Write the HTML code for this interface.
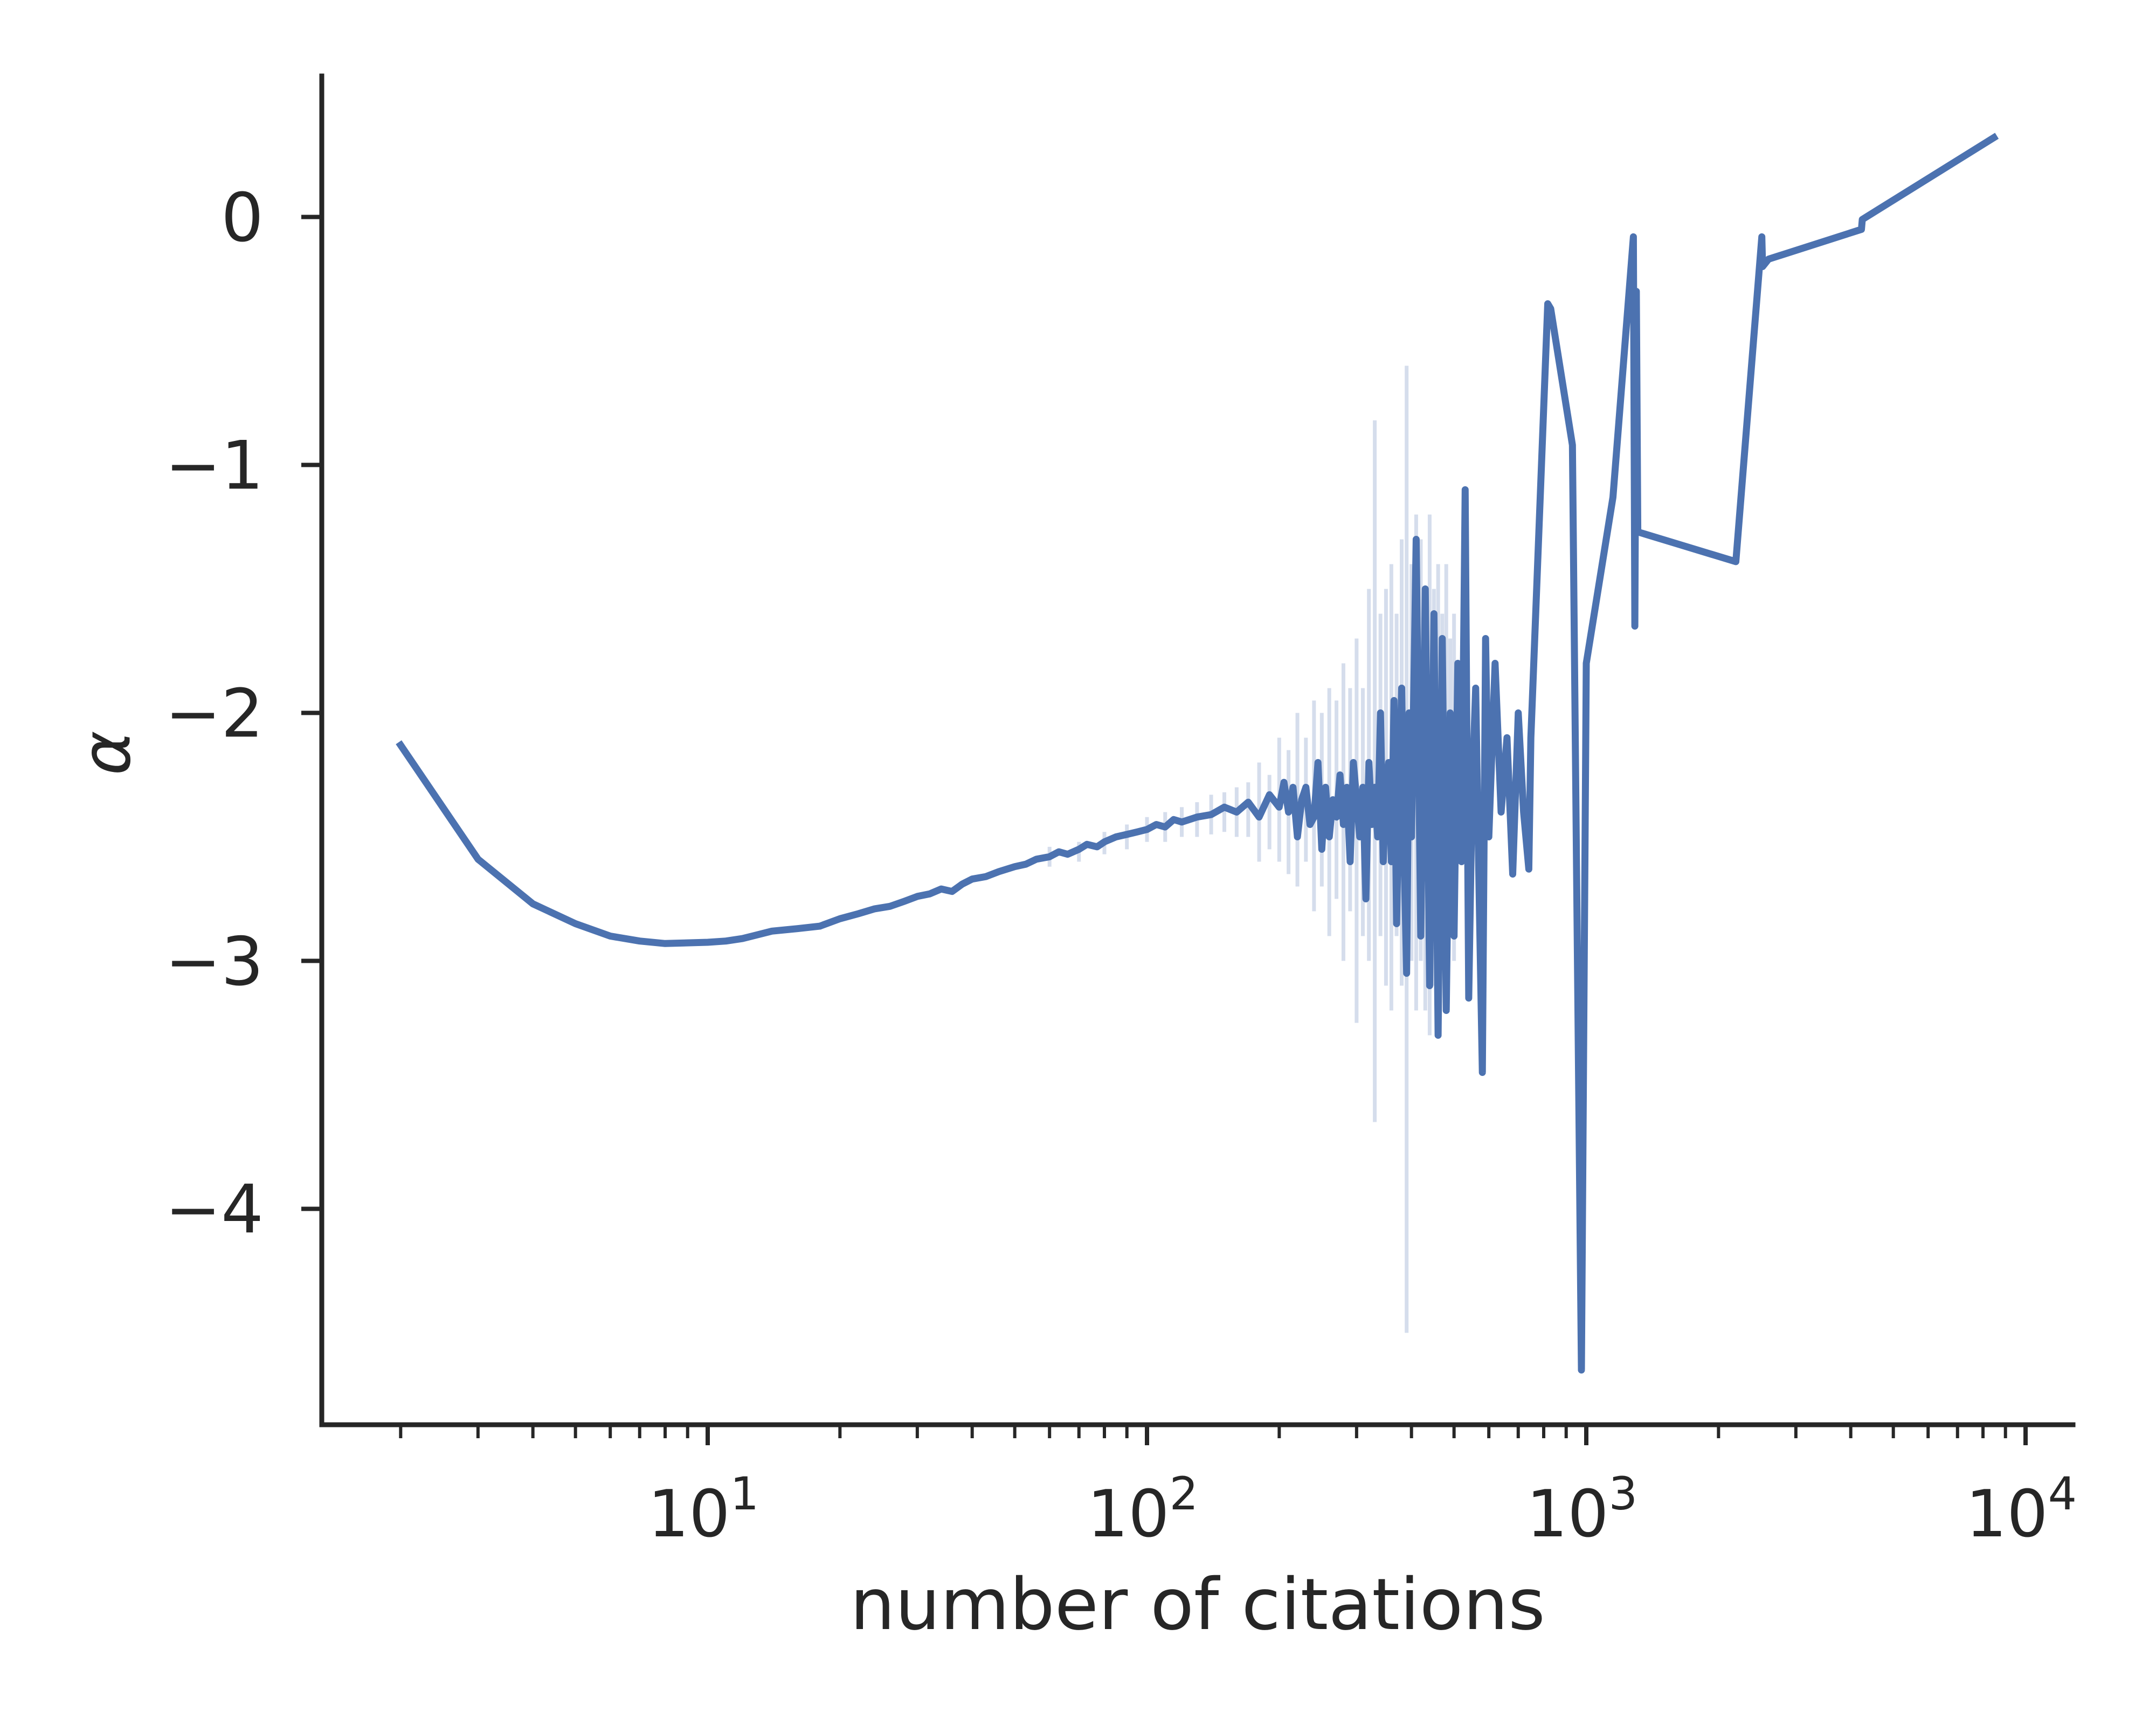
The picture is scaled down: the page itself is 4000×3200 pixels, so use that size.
<!DOCTYPE html>
<html><head><meta charset="utf-8"><style>
html,body{margin:0;padding:0;background:#fff;}
svg{display:block;font-family:"DejaVu Sans","Liberation Sans",sans-serif;}
</style></head><body>
<svg id="chart" width="4000" height="3200" viewBox="0 0 4000 3200" xmlns="http://www.w3.org/2000/svg">
<rect width="4000" height="3200" fill="#fff"/>
<g id="ci"></g>
<g id="series"></g>
<g id="axes"></g>
<text x="2222" y="3022" font-size="132" fill="#262626" text-anchor="middle">number of citations</text>
<text x="0" y="0" font-size="126" font-style="italic" fill="#262626" text-anchor="middle" transform="translate(240,1397) rotate(-90)">α</text>
</svg>
<script>
const xsSmooth = [2,3,4,5,6,7,8,10,11,12, 14,16,18,20,22,24,26,28,30,32, 34,36,38,40,43,46,50,53,56,60, 63,66,70,73,77,80,85,90,95,100, 105,110,115,120,130,140,150,160,170,180, 190,200];
const alphaSmooth = [-2.13,-2.59,-2.77,-2.85,-2.9,-2.92,-2.93,-2.925,-2.92,-2.91, -2.88,-2.87,-2.86,-2.83,-2.81,-2.79,-2.78,-2.76,-2.74,-2.73, -2.71,-2.72,-2.69,-2.67,-2.66,-2.64,-2.62,-2.61,-2.59,-2.58, -2.56,-2.57,-2.55,-2.53,-2.54,-2.52,-2.5,-2.49,-2.48,-2.47, -2.45,-2.46,-2.43,-2.44,-2.42,-2.41,-2.38,-2.4,-2.36,-2.42, -2.33,-2.38];
const xsNoise = [205,210,215,220,225,230,235,240,245,250, 255,260,265,270,275,280,285,290,295,300, 305,310,315,320,325,330,335,340,345,350, 355,360,365,370,375,380,385,390,395,400, 410,420,430,440,450,460,470,480,490,500, 510,520,530,540,550,560,570,580,590,600, 620,640,660,680,700,720,740,748];
const alphaNoise = [-2.28,-2.4,-2.3,-2.5,-2.35,-2.3,-2.45,-2.42,-2.2,-2.55, -2.3,-2.5,-2.35,-2.42,-2.25,-2.45,-2.3,-2.6,-2.2,-2.35, -2.5,-2.3,-2.75,-2.2,-2.45,-2.3,-2.5,-2.0,-2.6,-2.3, -2.2,-2.6,-1.95,-2.85,-2.3,-1.9,-2.6,-3.05,-2.0,-2.5, -1.3,-2.9,-1.5,-3.1,-1.6,-3.3,-1.7,-3.2,-2.0,-2.9, -1.8,-2.6,-1.1,-3.15,-2.3,-1.9,-2.7,-3.45,-1.7,-2.5, -1.8,-2.4,-2.1,-2.65,-2.0,-2.4,-2.63,-2.1];
const xsTail = [817,830,930,975,1000,1150,1280,1290,1300,1310, 2190,2510,2520,2600,4230,4250,8470];
const alphaTail = [-0.35,-0.37,-0.92,-4.65,-1.8,-1.13,-0.08,-1.65,-0.3,-1.27, -1.39,-0.08,-0.2,-0.17,-0.05,-0.01,0.32];
const ciX = [60,70,80,90,100,110,120,130,140,150,160,170,180,190,200,210,220,230,240,250,260,270,280,290,300,310,320,330,340,350,360,370,380,390,400,410,420,430,440,450,460,470,480,490,500];
const ciLow = [-2.62,-2.6,-2.57,-2.55,-2.52,-2.52,-2.5,-2.5,-2.49,-2.48,-2.5,-2.5,-2.6,-2.55,-2.6,-2.65,-2.7,-2.6,-2.8,-2.7,-2.9,-2.75,-3.0,-2.8,-3.25,-2.9,-3.0,-3.65,-2.9,-3.1,-3.2,-2.9,-3.1,-4.5,-3.0,-3.2,-3.0,-3.2,-3.3,-3.1,-3.3,-3.0,-3.2,-2.9,-3.0];
const ciHigh = [-2.54,-2.52,-2.48,-2.45,-2.42,-2.4,-2.38,-2.36,-2.33,-2.32,-2.3,-2.28,-2.2,-2.25,-2.1,-2.15,-2.0,-2.1,-1.95,-2.0,-1.9,-1.95,-1.8,-1.9,-1.7,-1.9,-1.5,-0.82,-1.6,-1.5,-1.4,-1.6,-1.3,-0.6,-1.4,-1.2,-1.3,-1.5,-1.2,-1.5,-1.4,-1.6,-1.4,-1.7,-1.6];
const yTicks = [0,-1,-2,-3,-4];
const xTickExp = [1,2,3,4];

const xs = xsSmooth.concat(xsNoise, xsTail);
const alphas = alphaSmooth.concat(alphaNoise, alphaTail);

const NS="http://www.w3.org/2000/svg";
const X0=597, Y0=2643, YT=141, XR=3846;
function xPos(v){return 1313+(Math.log10(v)-1)*815;}
function yPos(v){return 402.5-v*460;}
function mk(tag,attrs,parent){const e=document.createElementNS(NS,tag);for(const k in attrs)e.setAttribute(k,attrs[k]);parent.appendChild(e);return e;}

const ci=document.getElementById('ci');
for(let i=0;i<ciX.length;i++){
  const l=mk('line',{x1:xPos(ciX[i]),x2:xPos(ciX[i]),y1:yPos(ciLow[i]),y2:yPos(ciHigh[i]),stroke:'#d5ddec','stroke-width':7},ci);
  
  
}
const s=document.getElementById('series');
const n=Math.min(xs.length,alphas.length);
let d='';
for(let i=0;i<n;i++){d+=(i?'L':'M')+xPos(xs[i]).toFixed(1)+','+yPos(alphas[i]).toFixed(1);}
const p=mk('path',{d:d,fill:'none',stroke:'#4c72b0','stroke-width':13,'stroke-linejoin':'round','stroke-linecap':'square'},s);



const ax=document.getElementById('axes');
const ys=mk('line',{x1:X0,x2:X0,y1:YT,y2:Y0,stroke:'#262626','stroke-width':9,'stroke-linecap':'square'},ax);


const xsp=mk('line',{x1:X0,x2:XR,y1:Y0,y2:Y0,stroke:'#262626','stroke-width':9,'stroke-linecap':'square'},ax);


yTicks.forEach(v=>{
  const y=yPos(v);
  const t=mk('line',{x1:X0-38,x2:X0,y1:y,y2:y,stroke:'#262626','stroke-width':8},ax);
  
  
  const tx=mk('text',{x:X0-108,y:y+44,'font-size':124,fill:'#262626','text-anchor':'end'},ax);
  tx.textContent=v===0?'0':'\u2212'+Math.abs(v);
  
  
});
for(let e=0;e<=3;e++){for(let m=1;m<=9;m++){
  const v=m*Math.pow(10,e); if(v<2||v>9000)continue;
  const x=xPos(v); const major=(m===1);
  const t=mk('line',{x1:x,x2:x,y1:Y0,y2:Y0+(major?38:25),stroke:'#262626','stroke-width':major?8:6},ax);
  
  
}}
{const t=mk('line',{x1:xPos(10000),x2:xPos(10000),y1:Y0,y2:Y0+38,stroke:'#262626','stroke-width':8},ax);

}
xTickExp.forEach(e=>{
  const x=xPos(Math.pow(10,e));
  const tx=mk('text',{x:x-8,y:2850,'font-size':120,fill:'#262626','text-anchor':'middle'},ax);
  tx.textContent='10';
  const sp=document.createElementNS(NS,'tspan');sp.setAttribute('font-size',84);sp.setAttribute('dy',-50);sp.textContent=String(e);tx.appendChild(sp);
  
  
});
</script>
</body></html>
